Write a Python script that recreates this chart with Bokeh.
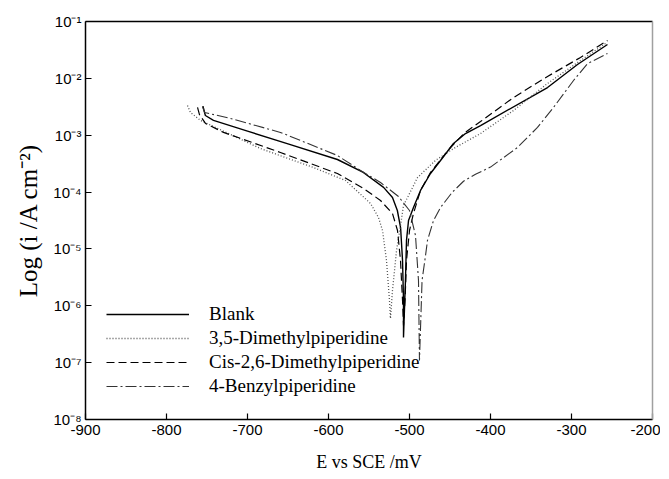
from bokeh.plotting import figure
from bokeh.models import (LinearAxis, FixedTicker, CustomJSTickFormatter, Range1d,
                          Legend, LegendItem)
from bokeh.embed import file_html
from bokeh.resources import INLINE

# ---- data (E in mV vs SCE, i in A cm^-2) ----
blank_E = [-755, -752, -742, -700, -650, -589, -557, -532, -521, -515, -511, -508.6,
           -507.4, -507.4, -505, -503.7, -501.2, -495.1, -486.4, -474.1, -461.7,
           -445.7, -430.9, -412.3, -329.6, -292.6, -255.6]
blank_i = [3.24e-3, 2.22e-3, 1.82e-3, 1.18e-3, 7.03e-4, 3.74e-4, 2.21e-4, 1.21e-4,
           8.04e-5, 4.74e-5, 2.38e-5, 6.27e-6, 1.24e-6, 2.77e-7, 2.79e-6, 1.41e-5,
           3.16e-5, 5.36e-5, 1.07e-4, 2.12e-4, 3.59e-4, 7.14e-4, 1.07e-3, 1.48e-3,
           6.90e-3, 1.75e-2, 3.94e-2]

dmp35_E = [-774.1, -770.4, -758, -684, -618.5, -579, -548.1, -538.3, -533.3, -528.4,
           -524.7, -523.5, -521, -516, -511.1, -507.4, -490.1, -468, -445.7, -412.3,
           -371.6, -329.6, -288.9, -258]
dmp35_i = [3.33e-3, 2.51e-3, 1.82e-3, 5.83e-4, 2.70e-4, 1.60e-4, 6.30e-5, 3.57e-5,
           2.11e-5, 6.27e-6, 1.24e-6, 5.98e-7, 1.86e-6, 9.4e-6, 2.58e-5, 5.81e-5,
           1.80e-4, 3.6e-4, 5.83e-4, 1.07e-3, 2.72e-3, 8.13e-3, 2.06e-2, 4.10e-2]

cis26_E = [-761.7, -759.3, -751.9, -729.6, -659.3, -589, -556.8, -535.8, -521, -514.8,
           -511.1, -508.6, -507.4, -505.5, -503.7, -500, -495.1, -486.4, -474.1,
           -461, -449.4, -432, -412.3, -371.6, -329.6, -288.9, -255.6]
cis26_i = [3.08e-3, 2.31e-3, 1.61e-3, 1.12e-3, 4.97e-4, 2.12e-4, 1.16e-4, 7.11e-5,
           4.2e-5, 2.11e-5, 6.27e-6, 1.24e-6, 4.51e-7, 1.26e-6, 6.27e-6, 2.11e-5,
           4.2e-5, 1.07e-4, 2.21e-4, 3.8e-4, 6.08e-4, 1.1e-3, 1.74e-3, 4.6e-3,
           1.08e-2, 2.33e-2, 4.63e-2]

benz4_E = [-755.6, -753, -721, -659.3, -589, -560.5, -535.8, -513.6, -500, -492.6,
           -488.9, -487.7, -486.4, -484.5, -480.2, -477.8, -470.4, -461.7, -447,
           -433.3, -418.5, -400, -366.7, -342, -322.2, -297.5, -280.2, -255.6]
benz4_i = [3.2e-3, 2.51e-3, 1.97e-3, 1.12e-3, 4.4e-4, 2.4e-4, 1.47e-4, 8.36e-5,
           4.74e-5, 1.72e-5, 2.79e-6, 1.09e-7, 3.98e-7, 2.79e-6, 7.67e-6, 1.41e-5,
           3.16e-5, 5.36e-5, 1.0e-4, 1.55e-4, 2.05e-4, 2.75e-4, 6.08e-4, 1.37e-3,
           3.08e-3, 9.16e-3, 1.82e-2, 2.74e-2]

series_names = ["Blank", "3,5-Dimethylpiperidine", "Cis-2,6-Dimethylpiperidine",
                "4-Benzylpiperidine"]
x_ticks = [-900, -800, -700, -600, -500, -400, -300, -200]
y_ticks = [1e-8, 1e-7, 1e-6, 1e-5, 1e-4, 1e-3, 1e-2, 1e-1]
x_title = "E vs SCE /mV"
y_title = "Log (i /A cm\u207B\u00B2)"

serif = "Liberation Serif"
sans = "Liberation Sans"

p = figure(width=660, height=475, x_range=Range1d(-900, -200),
           y_range=Range1d(1e-8, 1e-1), y_axis_type="log",
           output_backend="svg", toolbar_location=None,
           min_border_left=85, min_border_right=8, min_border_top=21,
           min_border_bottom=56)
p.outline_line_color = None
p.xgrid.visible = False
p.ygrid.visible = False
p.background_fill_color = "white"
p.border_fill_color = "white"

styles = [
    (blank_E, blank_i, "black", "solid", 1.4),
    (dmp35_E, dmp35_i, "#555555", "1 2", 1.3),
    (cis26_E, cis26_i, "black", "8 4", 1.2),
    (benz4_E, benz4_i, "#333333", "11 3 2 3", 1.1),
]
items = []
for (xs, ys, col, dash, w), name in zip(styles, series_names):
    r = p.line(xs, ys, line_color=col, line_dash=dash, line_width=w)
    items.append(LegendItem(label=name, renderers=[r]))

legend = Legend(items=items, location=(21, 21), padding=0, margin=0, spacing=0,
                glyph_width=83, glyph_height=24, label_height=24, label_standoff=20,
                label_text_font=serif, label_text_font_size="19px",
                label_text_color="black", background_fill_alpha=0,
                border_line_alpha=0)
p.add_layout(legend, "center")

# axes
for ax in (p.xaxis[0], p.yaxis[0]):
    ax.axis_line_width = 1.5
    ax.axis_line_color = "black"
    ax.major_tick_in = 6
    ax.major_tick_out = 0
    ax.major_tick_line_width = 1.2
    ax.major_tick_line_color = "black"
    ax.minor_tick_line_color = None
    ax.major_label_text_font = sans
    ax.major_label_text_font_size = "15px"
    ax.major_label_text_color = "black"
    ax.axis_label_text_font = serif
    ax.axis_label_text_font_style = "normal"
    ax.axis_label_text_color = "black"

p.xaxis[0].ticker = FixedTicker(ticks=x_ticks)
p.xaxis[0].formatter = CustomJSTickFormatter(code="return tick.toFixed(0);")
p.xaxis[0].axis_label = x_title
p.xaxis[0].axis_label_text_font_size = "18px"
p.xaxis[0].major_label_standoff = 5
p.xaxis[0].axis_label_standoff = 14

p.yaxis[0].ticker = FixedTicker(ticks=y_ticks)
p.yaxis[0].formatter = CustomJSTickFormatter(code="""
const sup = {'-':'\u207B','0':'\u2070','1':'\u00B9','2':'\u00B2','3':'\u00B3',
             '4':'\u2074','5':'\u2075','6':'\u2076','7':'\u2077','8':'\u2078','9':'\u2079'};
const e = Math.round(Math.log10(tick));
return '10' + String(e).split('').map(c => sup[c]).join('');
""")
p.yaxis[0].axis_label = y_title
p.yaxis[0].axis_label_text_font_size = "25px"
p.yaxis[0].major_label_standoff = 4
p.yaxis[0].axis_label_standoff = 8

top_ax = LinearAxis(ticker=FixedTicker(ticks=[]), axis_line_color="black",
                    axis_line_width=1.5, major_tick_line_color=None,
                    minor_tick_line_color=None)
p.add_layout(top_ax, "above")
right_ax = LinearAxis(ticker=FixedTicker(ticks=[]), axis_line_color="#a0a0a0",
                      axis_line_width=1.5, major_tick_line_color=None,
                      minor_tick_line_color=None)
p.add_layout(right_ax, "right")

open("out.html", "w").write(file_html(p, INLINE))
